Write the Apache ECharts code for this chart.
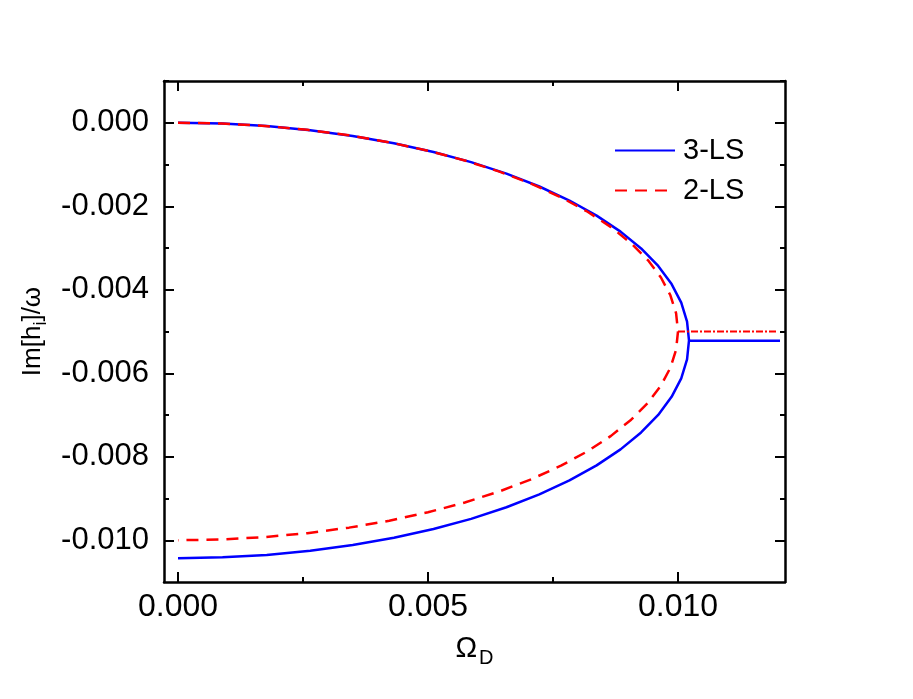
<!DOCTYPE html>
<html>
<head>
<meta charset="utf-8">
<script src="https://cdn.jsdelivr.net/npm/echarts@6/dist/echarts.min.js"></script>
<style>
  html, body { margin: 0; padding: 0; background: #fff; }
  #container { width: 913px; height: 699px; }
</style>
</head>
<body>
<div id="container"></div>
<script>
// 3-LS curve: upper branch out to the exceptional point, then back along the lower branch
var omega3 = [0, 0.000891, 0.001775, 0.002645, 0.003495, 0.004319, 0.00511, 0.005862, 0.006569, 0.007227,
    0.007829, 0.008372, 0.008851, 0.009262, 0.009604, 0.009872, 0.010065, 0.010181, 0.01022,
    0.010181, 0.010065, 0.009872, 0.009604, 0.009262, 0.008851, 0.008372, 0.007829, 0.007227,
    0.006569, 0.005862, 0.00511, 0.004319, 0.003495, 0.002645, 0.001775, 0.000891, 0];
var im3 = [0, -0.00002, -0.000079, -0.000178, -0.000315, -0.000489, -0.000699, -0.000943, -0.00122, -0.001527,
    -0.001863, -0.002224, -0.002608, -0.003011, -0.003431, -0.003865, -0.004309, -0.004761, -0.005215,
    -0.00567, -0.006121, -0.006565, -0.006999, -0.007419, -0.007823, -0.008206, -0.008567, -0.008903,
    -0.00921, -0.009487, -0.009731, -0.009941, -0.010116, -0.010252, -0.010351, -0.01041, -0.01043];
// 2-LS curve
var omega2 = [0, 0.000872, 0.001737, 0.002588, 0.00342, 0.004226, 0.005, 0.005736, 0.006428, 0.007071,
    0.00766, 0.008192, 0.00866, 0.009063, 0.009397, 0.009659, 0.009848, 0.009962, 0.0100,
    0.009962, 0.009848, 0.009659, 0.009397, 0.009063, 0.00866, 0.008192, 0.00766, 0.007071,
    0.006428, 0.005736, 0.005, 0.004226, 0.00342, 0.002588, 0.001737, 0.000872, 0];
var im2 = [0, -0.000019, -0.000076, -0.00017, -0.000302, -0.000468, -0.00067, -0.000904, -0.00117, -0.001464,
    -0.001786, -0.002132, -0.0025, -0.002887, -0.00329, -0.003706, -0.004132, -0.004564, -0.0050,
    -0.005436, -0.005868, -0.006294, -0.00671, -0.007113, -0.0075, -0.007868, -0.008214, -0.008536,
    -0.00883, -0.009096, -0.00933, -0.009532, -0.009698, -0.00983, -0.009924, -0.009981, -0.0100];
// flat parts after the exceptional point
var flatOmega3 = [0.01022, 0.01204];
var flatIm3 = [-0.00522, -0.00522];
var flatOmega2 = [0.0100, 0.01198];
var flatIm2 = [-0.0050, -0.0050];

var xMajor = [0, 0.005, 0.010];
var xMinor = [0.0025, 0.0075];
var yMajor = [0, -0.002, -0.004, -0.006, -0.008, -0.010];
var yMinor = [0.001, -0.001, -0.003, -0.005, -0.007, -0.009];

function pairs(xs, ys) {
    var out = [];
    for (var i = 0; i < xs.length; i++) out.push([xs[i], ys[i]]);
    return out;
}

var xMin = -0.00028, xMax = 0.01214;
var yMin = -0.011, yMax = 0.001;
var fontFam = 'Liberation Sans, Arial, sans-serif';

function xAxisDef(pos, ticks, len, main) {
    return {
        type: 'value', position: pos, min: xMin, max: xMax,
        axisLine: { show: main, onZero: false, lineStyle: { color: '#000', width: 2.5 } },
        axisTick: { show: true, inside: true, length: len, customValues: ticks, lineStyle: { color: '#000', width: 2 } },
        axisLabel: {
            show: main && pos === 'bottom', customValues: ticks, margin: 9,
            color: '#000', fontSize: 32, fontFamily: fontFam,
            formatter: function (v) { return v.toFixed(3); }
        },
        splitLine: { show: false }
    };
}
function yAxisDef(pos, ticks, len, main) {
    return {
        type: 'value', position: pos, min: yMin, max: yMax,
        axisLine: { show: main, onZero: false, lineStyle: { color: '#000', width: 2.5 } },
        axisTick: { show: true, inside: true, length: len, customValues: ticks, lineStyle: { color: '#000', width: 2 } },
        axisLabel: {
            show: main && pos === 'left', customValues: ticks, margin: 15,
            color: '#000', fontSize: 31, fontFamily: fontFam,
            formatter: function (v) { return v.toFixed(3); }
        },
        splitLine: { show: false }
    };
}

var xs = [xAxisDef('bottom', xMajor, 10, true), xAxisDef('bottom', xMinor, 5, false),
    xAxisDef('top', xMajor, 10, true), xAxisDef('top', xMinor, 5, false)];
xs[0].name = '{a|Ω}{s|D}';
xs[0].nameLocation = 'middle';
xs[0].nameGap = 48;
xs[0].nameTextStyle = { rich: {
    a: { fontSize: 29, fontFamily: fontFam, color: '#000' },
    s: { fontSize: 20, fontFamily: fontFam, color: '#000', verticalAlign: 'bottom', padding: [18, 0, 0, 2] } } };

var ys = [yAxisDef('left', yMajor, 10, true), yAxisDef('left', yMinor, 5, false),
    yAxisDef('right', yMajor, 10, true), yAxisDef('right', yMinor, 5, false)];
ys[0].name = '{a|Im[h}{s|i}{a|]/ω}';
ys[0].nameLocation = 'middle';
ys[0].nameGap = 114;
ys[0].nameTextStyle = { rich: {
    a: { fontSize: 26, fontFamily: fontFam, color: '#000' },
    s: { fontSize: 18, fontFamily: fontFam, color: '#000', verticalAlign: 'bottom', padding: [16, 0, 0, 0] } } };

var myChart = echarts.init(document.getElementById('container'));
var option = {
    backgroundColor: '#fff',
    animation: false,
    grid: { left: 164, right: 128, top: 81, bottom: 117 },
    legend: {
        data: ['3-LS', '2-LS'],
        orient: 'vertical',
        left: 609, top: 131,
        itemWidth: 60, itemHeight: 14, itemGap: 11,
        itemStyle: { opacity: 0 },
        textStyle: { fontSize: 29, fontFamily: fontFam, color: '#000', padding: [0, 0, 0, 3] }
    },
    xAxis: xs,
    yAxis: ys,
    series: [{
        name: '3-LS', type: 'line', symbol: 'none',
        lineStyle: { color: '#0000ff', width: 2.5, type: 'solid' },
        itemStyle: { color: '#0000ff' },
        data: pairs(omega3, im3)
    }, {
        name: '3-LS flat', type: 'line', symbol: 'none',
        lineStyle: { color: '#0000ff', width: 2.5 },
        data: pairs(flatOmega3, flatIm3)
    }, {
        name: '2-LS', type: 'line', symbol: 'none',
        lineStyle: { color: '#ff0000', width: 2.5, type: [12, 8] },
        itemStyle: { color: '#ff0000' },
        data: pairs(omega2, im2)
    }, {
        name: '2-LS flat', type: 'line', symbol: 'none',
        lineStyle: { color: '#ff0000', width: 2, type: [7, 2, 2, 2] },
        data: pairs(flatOmega2, flatIm2)
    }]
};
myChart.setOption(option);
</script>
</body>
</html>
